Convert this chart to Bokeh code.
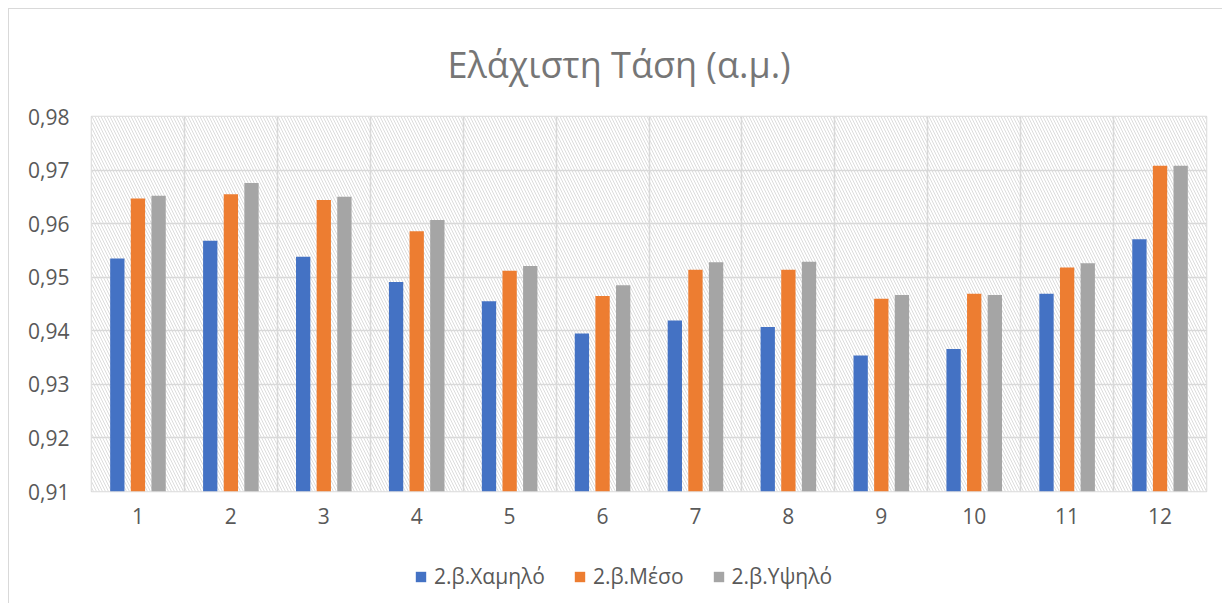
from bokeh.plotting import figure
from bokeh.models import (FixedTicker, CustomJSTickFormatter, Legend, LegendItem,
                          ColumnDataSource, Title)
from bokeh.layouts import column
from bokeh.embed import file_html
from bokeh.resources import INLINE

categories = ["1", "2", "3", "4", "5", "6", "7", "8", "9", "10", "11", "12"]
series_names = ["2.β.Χαμηλό", "2.β.Μέσο", "2.β.Υψηλό"]
low = [0.9535, 0.9568, 0.9538, 0.9491, 0.9455, 0.9395, 0.9419, 0.9407, 0.9354, 0.9366, 0.9469, 0.9571]
mid = [0.9647, 0.9655, 0.9644, 0.9586, 0.9512, 0.9465, 0.9514, 0.9514, 0.9460, 0.9469, 0.9518, 0.9708]
high = [0.9652, 0.9676, 0.9650, 0.9607, 0.9521, 0.9485, 0.9528, 0.9529, 0.9467, 0.9467, 0.9526, 0.9708]
y_ticks = [0.91, 0.92, 0.93, 0.94, 0.95, 0.96, 0.97, 0.98]

colors = ["#4472C4", "#ED7D31", "#A5A5A5"]
FONT = "Open Sans"
TXT = "#595959"
GRID = "#D9D9D9"

n = len(categories)
xs = list(range(1, n + 1))
x0, x1 = 0.5, n + 0.5
y0, y1 = y_ticks[0], y_ticks[-1]

W = 1213
p = figure(width=W, height=540, output_backend="svg", toolbar_location=None,
           x_range=(x0, x1), y_range=(y0, y1),
           min_border_left=82, min_border_right=16, min_border_top=104, min_border_bottom=58)
p.background_fill_color = "white"
p.border_fill_color = "white"
p.outline_line_color = GRID
p.outline_line_width = 1.5

p.title = Title(text="Ελάχιστη Τάση (α.μ.)", align="left", text_font=FONT,
                text_font_size="36px", text_font_style="normal", text_color="#767676",
                standoff=56, offset=356)

# hatched background
p.quad(left=[x0], right=[x1], bottom=[y0], top=[y1], fill_color="white",
       line_color=None, hatch_pattern="\\", hatch_color="#DCDCDC",
       hatch_scale=6, hatch_weight=1, level="image")

w = 0.154
step = 0.222
for i, (vals, c) in enumerate(zip([low, mid, high], colors)):
    src = ColumnDataSource(dict(x=[x + (i - 1) * step for x in xs], top=vals))
    p.vbar(x="x", top="top", bottom=y0, width=w, source=src,
           fill_color=c, line_color=None)

p.xaxis.ticker = FixedTicker(ticks=xs)
p.xaxis.major_label_overrides = {x: c for x, c in zip(xs, categories)}
p.yaxis.ticker = FixedTicker(ticks=y_ticks)
p.yaxis.formatter = CustomJSTickFormatter(code="return tick.toFixed(2).replace('.', ',');")
for ax in (p.xaxis, p.yaxis):
    ax.axis_line_color = None
    ax.major_tick_line_color = None
    ax.minor_tick_line_color = None
    ax.major_tick_in = 0
    ax.major_tick_out = 0
    ax.major_label_text_font = FONT
    ax.major_label_text_font_size = "21px"
    ax.major_label_text_color = TXT
p.xaxis.major_label_standoff = 16
p.yaxis.major_label_standoff = 22

p.xgrid.ticker = FixedTicker(ticks=[x + 0.5 for x in range(0, n + 1)])
p.ygrid.ticker = FixedTicker(ticks=y_ticks)
for g in (p.xgrid, p.ygrid):
    g.grid_line_color = GRID
    g.grid_line_width = 1.5

# legend strip below the chart (swatches use off-screen placeholder bars)
lf = figure(width=W, height=54, output_backend="svg", toolbar_location=None,
            x_range=(0, 1), y_range=(0, 1),
            min_border_left=0, min_border_right=0, min_border_top=0, min_border_bottom=0)
lf.axis.visible = False
lf.grid.visible = False
lf.outline_line_color = None
lf.background_fill_color = "white"
lf.border_fill_color = "white"
items = []
for s, c in zip(series_names, colors):
    r = lf.vbar(x=[-5], top=[-5], bottom=[-6], width=0.1, fill_color=c, line_color=None)
    items.append(LegendItem(label=s, renderers=[r]))
legend = Legend(items=items, orientation="horizontal", location=(323, 13),
                label_text_font=FONT, label_text_font_size="21px", label_text_color=TXT,
                glyph_width=13, glyph_height=13, spacing=28, label_standoff=7,
                border_line_color=None, background_fill_alpha=0, margin=0, padding=4)
lf.add_layout(legend, "center")

inner = column(p, lf, spacing=0,
               styles={"border-left": "1.5px solid #D9D9D9", "border-top": "1.5px solid #D9D9D9"})
outer = column(inner, styles={"padding-left": "8px", "padding-top": "8px",
                              "background-color": "white"})

open("out.html", "w").write(file_html(outer, INLINE))
